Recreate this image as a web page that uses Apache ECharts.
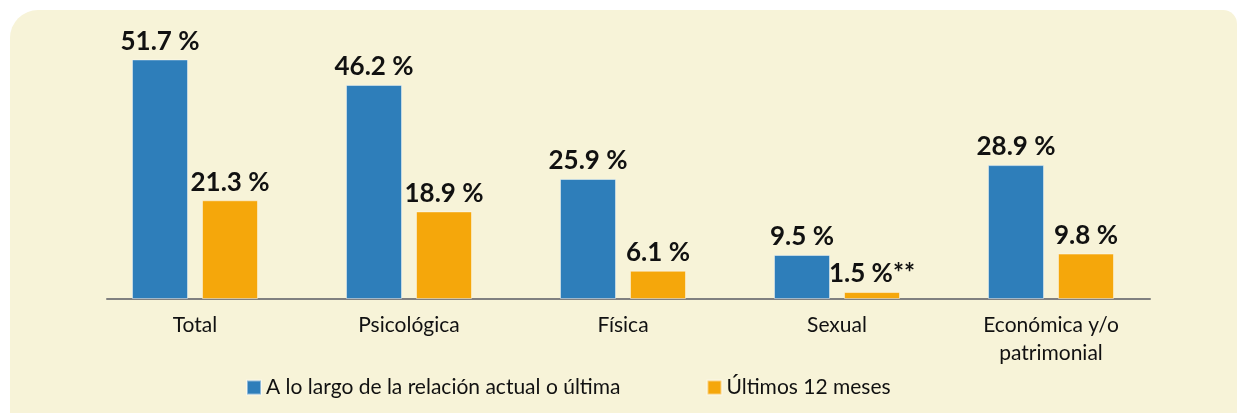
<!DOCTYPE html>
<html>
<head>
<meta charset="utf-8">
<script src="https://cdn.jsdelivr.net/npm/echarts@6/dist/echarts.min.js"></script>
<style>
  html, body { margin: 0; padding: 0; background: #fff; }
  .panel {
    position: absolute; left: 10px; top: 10px; width: 1227px; height: 420px;
    background: #F7F3D8; border-radius: 28px 14px 0 0;
  }
  #chart { position: absolute; left: 0; top: 0; width: 1237px; height: 413px; }
</style>
</head>
<body>
<div class="panel"></div>
<div id="chart"></div>
<script>
// datos del gráfico
const categorias = ["Total", "Psicológica", "Física", "Sexual", "Económica y/o\npatrimonial"];
const relacionActual = [51.7, 46.2, 25.9, 9.5, 28.9];
const ultimos12 = [21.3, 18.9, 6.1, 1.5, 9.8];
const sufijos12 = ["", "", "", "**", ""];
const nombres = ["A lo largo de la relación actual o última", "Últimos 12 meses"];

const fuente = "Lato, 'Open Sans', sans-serif";
const myChart = echarts.init(document.getElementById("chart"));

const etiqueta = {
  show: true,
  position: "top",
  distance: 5,
  fontFamily: fuente,
  fontWeight: "bold",
  fontSize: 26,
  color: "#111"
};

const option = {
  backgroundColor: "transparent",
  animation: false,
  legend: {
    left: 241,
    top: 372,
    itemWidth: 14,
    itemHeight: 14,
    itemGap: 86,
    icon: "rect",
    textStyle: { fontFamily: fuente, fontSize: 21, color: "#111" },
    data: nombres
  },
  grid: [
    { left: 88, width: 1070, top: 21, height: 278 },
    { left: 107, width: 1043, top: 21, height: 278 }
  ],
  xAxis: [
    {
      type: "category",
      gridIndex: 0,
      data: categorias,
      axisLine: { show: false },
      axisTick: { show: false },
      axisLabel: {
        margin: 12,
        fontFamily: fuente,
        fontSize: 21,
        color: "#111",
        lineHeight: 28,
        interval: 0
      }
    },
    {
      type: "category",
      gridIndex: 1,
      data: categorias,
      axisLine: { lineStyle: { color: "#808080", width: 2 } },
      axisTick: { show: false },
      axisLabel: { show: false }
    }
  ],
  yAxis: [
    { type: "value", gridIndex: 0, min: 0, max: 60, show: false },
    { type: "value", gridIndex: 1, min: 0, max: 60, show: false }
  ],
  series: [
    {
      name: nombres[0],
      type: "bar",
      data: relacionActual,
      barWidth: 56,
      barGap: "25%",
      itemStyle: { color: "#2E7EBA", borderColor: "rgba(255,255,255,0.45)", borderWidth: 1 },
      label: { ...etiqueta, formatter: (p) => p.value.toFixed(1) + " %" }
    },
    {
      name: nombres[1],
      type: "bar",
      data: ultimos12,
      barWidth: 56,
      barGap: "25%",
      itemStyle: { color: "#F5A70B", borderColor: "rgba(255,255,255,0.45)", borderWidth: 1 },
      label: { ...etiqueta, formatter: (p) => p.value.toFixed(1) + " %" + sufijos12[p.dataIndex] }
    }
  ]
};

myChart.setOption(option);
</script>
</body>
</html>
